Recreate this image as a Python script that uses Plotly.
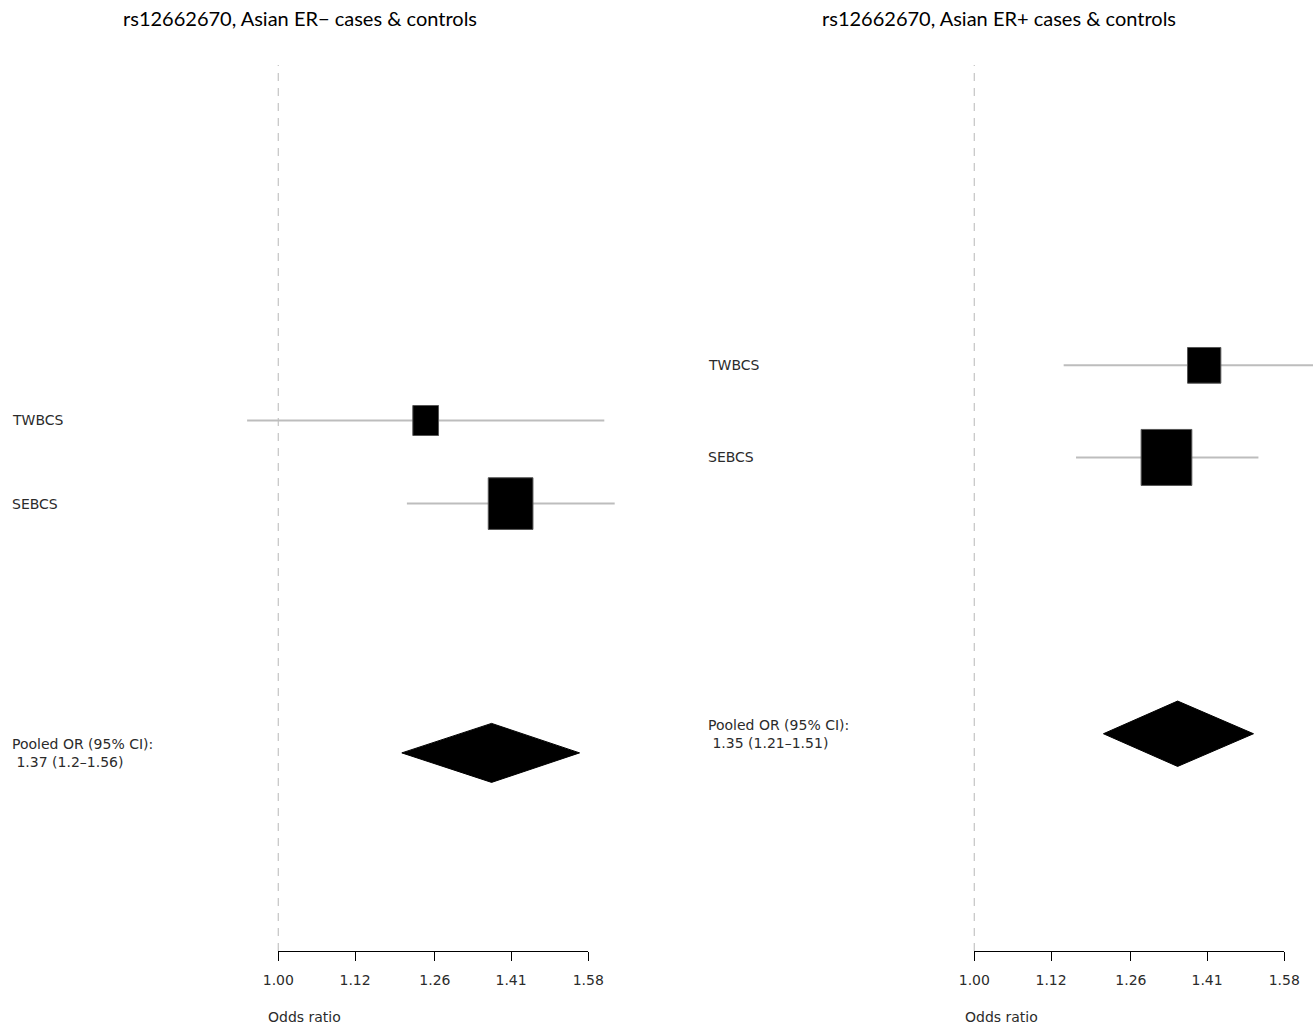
import plotly.graph_objects as go
import numpy as np

# ---------------- data ----------------
studies = ["TWBCS", "SEBCS"]
study_rows = [1, 2]
pooled_row = 5

# ER- panel
neg_or = [1.243, 1.409]
neg_lo = [0.955, 1.209]
neg_hi = [1.618, 1.643]
neg_pooled = [1.37, 1.20, 1.56]          # OR, lower, upper
neg_pooled_text = "Pooled OR (95% CI):<br>\u00a01.37 (1.2\u20131.56)"

# ER+ panel
pos_or = [1.404, 1.328]
pos_lo = [1.141, 1.162]
pos_hi = [1.726, 1.521]
pos_pooled = [1.35, 1.21, 1.51]
pos_pooled_text = "Pooled OR (95% CI):<br>\u00a01.35 (1.21\u20131.51)"

tick_vals = [1.00, 1.12, 1.26, 1.41, 1.58]
tick_text = ["1.00", "1.12", "1.26", "1.41", "1.58"]
titles = ["rs12662670, Asian ER\u2212 cases & controls",
          "rs12662670, Asian ER+ cases & controls"]

# ---------------- styles / layout ----------------
W, H = 1313, 1025
PXD = 1560.0                    # pixels per decade on the OR axis
PLOT_TOP, PLOT_BOT = 65, 951
# box sizes in pixels (w, h)
neg_box = [(25.7, 30.0), (44.7, 51.7)]
pos_box = [(33.3, 35.7), (50.7, 56.0)]
DIAMOND_HALF = 0.355            # half-height of pooled diamond in row units

panels = [
    dict(orv=neg_or, lo=neg_lo, hi=neg_hi, pooled=neg_pooled, ptext=neg_pooled_text,
         box=neg_box, one_px=278.3, data_px=(190, 650), yrange=[7.384, -3.278],
         xa="x", ya="y", xd="x3", label_x=10, title_x=300, or_label_x=266),
    dict(orv=pos_or, lo=pos_lo, hi=pos_hi, pooled=pos_pooled, ptext=pos_pooled_text,
         box=pos_box, one_px=974.3, data_px=(900, 1313), yrange=[7.359, -2.261],
         xa="x2", ya="y2", xd="x4", label_x=706, title_x=999, or_label_x=963),
]

FONT = "DejaVu Sans"
TXT = "#2b2b2b"
CI_COL = "#bdbdbd"

fig = go.Figure()
annotations = []
layout_axes = {}

ydom = [(H - PLOT_BOT) / H, (H - PLOT_TOP) / H]

for i, p in enumerate(panels):
    xa, ya, xd = p["xa"], p["ya"], p["xd"]
    row_px = (PLOT_BOT - PLOT_TOP) / (p["yrange"][0] - p["yrange"][1])
    # reference line at OR = 1
    fig.add_trace(go.Scatter(
        x=[1.0, 1.0], y=p["yrange"], mode="lines", xaxis=xa, yaxis=ya,
        line=dict(color="#c8c8c8", width=1.3, dash="8px,7px"),
        hoverinfo="skip", showlegend=False))
    # CI lines and boxes
    for j, s in enumerate(studies):
        fig.add_trace(go.Scatter(
            x=[p["lo"][j], p["hi"][j]], y=[study_rows[j], study_rows[j]],
            mode="lines", xaxis=xa, yaxis=ya,
            line=dict(color=CI_COL, width=2), showlegend=False, name=s))
    for j, s in enumerate(studies):
        bw, bh = p["box"][j]
        fx = 10 ** (bw / 2 / PXD)
        dy = bh / 2 / row_px
        xl, xr = p["orv"][j] / fx, p["orv"][j] * fx
        yt, yb = study_rows[j] - dy, study_rows[j] + dy
        fig.add_trace(go.Scatter(
            x=[xl, xr, xr, xl, xl], y=[yt, yt, yb, yb, yt],
            mode="lines", fill="toself", fillcolor="black",
            line=dict(color="#555555", width=1), xaxis=xa, yaxis=ya,
            showlegend=False, name=s))
        annotations.append(dict(
            x=p["label_x"] / W, xref="paper", y=study_rows[j], yref=ya,
            text=s, showarrow=False, xanchor="left", yanchor="middle",
            font=dict(family=FONT, size=14, color=TXT)))
    # pooled diamond
    o, l, h = p["pooled"]
    fig.add_trace(go.Scatter(
        x=[l, o, h, o, l],
        y=[pooled_row, pooled_row - DIAMOND_HALF, pooled_row,
           pooled_row + DIAMOND_HALF, pooled_row],
        mode="lines", fill="toself", fillcolor="black",
        line=dict(color="black", width=1), xaxis=xa, yaxis=ya, showlegend=False))
    annotations.append(dict(
        x=p["label_x"] / W, xref="paper", y=pooled_row, yref=ya,
        text=p["ptext"], showarrow=False, xanchor="left", yanchor="middle", align="left",
        font=dict(family=FONT, size=14, color=TXT)))
    # dummy trace for the display axis
    fig.add_trace(go.Scatter(x=[], y=[], xaxis=xd, yaxis=ya, showlegend=False))

    x_px0, x_px1 = p["data_px"]
    one = p["one_px"]
    rng = [(x_px0 - one) / PXD, (x_px1 - one) / PXD]
    top_px = one + np.log10(tick_vals[-1]) * PXD
    key = "xaxis" if xa == "x" else "xaxis" + xa[1:]
    layout_axes[key] = dict(type="log", domain=[x_px0 / W, x_px1 / W], range=rng,
                            visible=False, anchor=ya, automargin=False)
    keyd = "xaxis" + xd[1:]
    layout_axes[keyd] = dict(
        type="log", domain=[one / W, top_px / W],
        range=[0, np.log10(tick_vals[-1])], anchor=ya, automargin=False,
        showline=True, linecolor="black", linewidth=1,
        ticks="outside", ticklen=9, tickwidth=1, tickcolor="black",
        tickvals=tick_vals, ticktext=tick_text, showgrid=False, zeroline=False,
        tickfont=dict(family=FONT, size=14, color=TXT), ticklabelstandoff=7)
    keyy = "yaxis" if ya == "y" else "yaxis" + ya[1:]
    layout_axes[keyy] = dict(domain=ydom, range=p["yrange"], visible=False,
                             anchor=xa, showgrid=False, zeroline=False, automargin=False)
    # titles and axis label
    annotations.append(dict(
        x=p["title_x"] / W, xref="paper", y=(H - 18) / H, yref="paper",
        text=titles[i], showarrow=False, xanchor="center", yanchor="middle",
        font=dict(family="Lato", size=20, color="black")))
    annotations.append(dict(
        x=p["or_label_x"] / W, xref="paper", y=(H - 1016.5) / H, yref="paper",
        text="Odds ratio", showarrow=False, xanchor="left", yanchor="middle",
        font=dict(family=FONT, size=14, color=TXT)))

fig.update_layout(
    width=W, height=H, autosize=False,
    margin=dict(l=0, r=0, t=0, b=0, pad=0, autoexpand=False),
    paper_bgcolor="white", plot_bgcolor="rgba(0,0,0,0)",
    annotations=annotations, showlegend=False,
    **layout_axes)

fig.write_html("out.html", config={"responsive": False, "displayModeBar": False},
               post_script="document.body.style.margin='0';document.body.style.overflow='hidden';")
